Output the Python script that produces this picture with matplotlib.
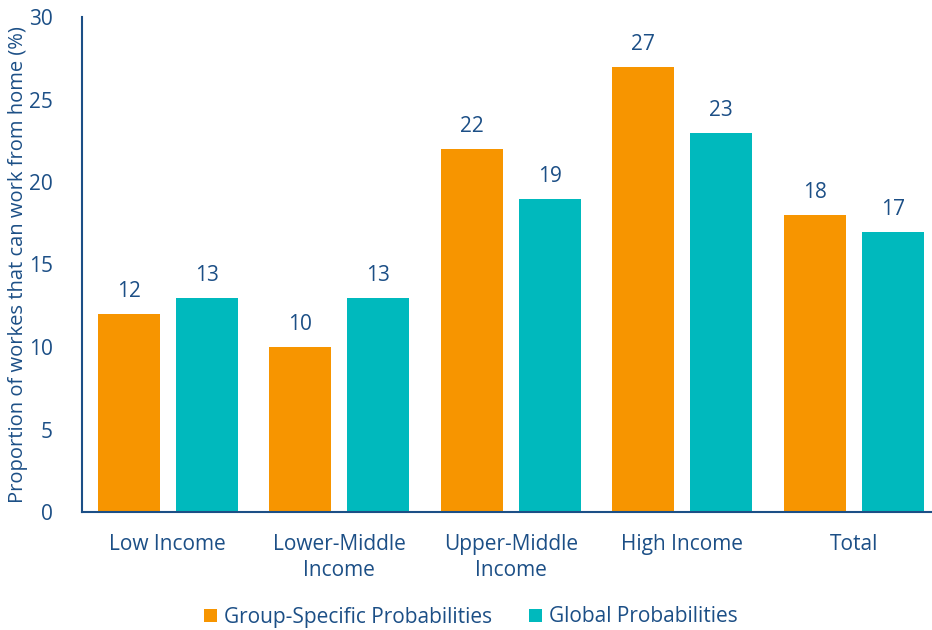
import matplotlib
matplotlib.use("Agg")
import matplotlib.pyplot as plt
import numpy as np

categories = ["Low Income", "Lower-Middle\nIncome", "Upper-Middle\nIncome", "High Income", "Total"]
group_specific = [12, 10, 22, 27, 18]
global_prob = [13, 13, 19, 23, 17]
series_names = ["Group-Specific Probabilities", "Global Probabilities"]
yticks = [0, 5, 10, 15, 20, 25, 30]

plt.rcParams['font.family'] = ['Open Sans', 'DejaVu Sans']
TXT = '#1c4f86'
ORANGE = '#f79500'
TEAL = '#00b9bd'

W, H = 932, 630
fig = plt.figure(figsize=(W/100, H/100), dpi=100)
left, right, top, bottom = 82, 932, 17, 512
ax = fig.add_axes([left/W, 1-bottom/H, (right-left)/W, (bottom-top)/H])

x = np.arange(len(categories))
bw = 0.36
off = 0.227
b1 = ax.bar(x - off, group_specific, bw, color=ORANGE, label=series_names[0])
b2 = ax.bar(x + off, global_prob, bw, color=TEAL, label=series_names[1])
for bars in (b1, b2):
    for r in bars:
        ax.text(r.get_x() + r.get_width()/2, r.get_height() + 0.7, f"{r.get_height():g}",
                ha='center', va='bottom', fontsize=15, color=TXT)

ax.set_ylim(0, 30)
ax.set_yticks(yticks)
cat_w = 171.5
ax.set_xlim(-0.5, -0.5 + (right-left)/cat_w)
ax.set_xticks(x)
ax.set_xticklabels(categories, fontsize=15, color=TXT, linespacing=1.3)
ax.tick_params(axis='y', labelsize=15, labelcolor=TXT, length=0, pad=21)
ax.tick_params(axis='x', length=0, pad=16)
for s in ('top', 'right'):
    ax.spines[s].set_visible(False)
for s in ('left', 'bottom'):
    ax.spines[s].set_color(TXT)
    ax.spines[s].set_linewidth(1.5)
ax.set_ylabel("Proportion of workes that can work from home (%)", fontsize=14.5, color=TXT)
ax.yaxis.set_label_coords(-(82-28)/(right-left), 0.5)

leg = fig.legend(handles=[b1, b2], labels=series_names, loc='center', bbox_to_anchor=(471/W, 1-617/H),
                 ncol=2, frameon=False, fontsize=15, handlelength=0.6, handleheight=0.6,
                 handletextpad=0.35, columnspacing=1.8, labelcolor=TXT)

fig.savefig("out.png", dpi=100)
